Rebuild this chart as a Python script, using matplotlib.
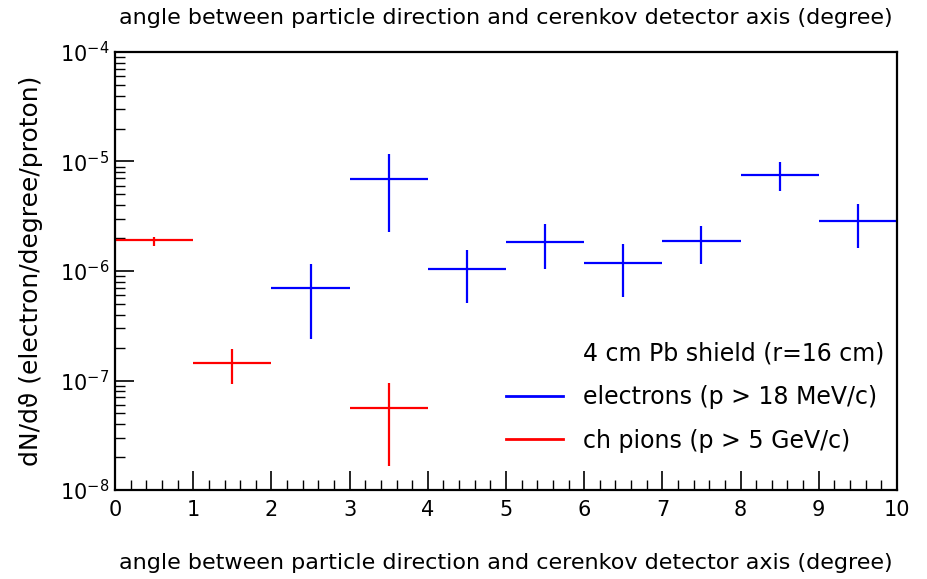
import matplotlib.pyplot as plt
import numpy as np
from matplotlib.lines import Line2D
from matplotlib.ticker import FixedLocator, LogLocator, NullFormatter, MultipleLocator

# bin centres (degree) and dN/dtheta values with asymmetric errors
e_x = [2.5, 3.5, 4.5, 5.5, 6.5, 7.5, 8.5, 9.5]
e_y = [7.0e-7, 6.9e-6, 1.04e-6, 1.85e-6, 1.19e-6, 1.87e-6, 7.6e-6, 2.87e-6]
e_hi = [1.15e-6, 1.16e-5, 1.55e-6, 2.66e-6, 1.78e-6, 2.57e-6, 9.9e-6, 4.08e-6]
e_lo = [2.37e-7, 2.28e-6, 5.15e-7, 1.04e-6, 5.73e-7, 1.17e-6, 5.36e-6, 1.63e-6]

pi_x = [0.5, 1.5, 3.5]
pi_y = [1.91e-6, 1.445e-7, 5.65e-8]
pi_hi = [2.05e-6, 1.96e-7, 9.57e-8]
pi_lo = [1.70e-6, 9.2e-8, 1.66e-8]

bin_half = 0.5
ytick_labels = [r"$10^{-8}$", r"$10^{-7}$", r"$10^{-6}$", r"$10^{-5}$", r"$10^{-4}$"]
xlabel = "angle between particle direction and cerenkov detector axis (degree)"

plt.rcParams["font.family"] = "DejaVu Sans"
plt.rcParams["mathtext.default"] = "regular"

fig = plt.figure(figsize=(9.27, 5.79), dpi=100)
ax = fig.add_axes([0.1241, 0.1537, 0.8435, 0.7565])


def draw(x, y, lo, hi, color):
    y = np.asarray(y)
    yerr = [y - np.asarray(lo), np.asarray(hi) - y]
    ax.errorbar(x, y, xerr=bin_half, yerr=yerr, fmt="none", ecolor=color,
                elinewidth=1.6, capsize=0)


draw(e_x, e_y, e_lo, e_hi, "#0000ff")
draw(pi_x, pi_y, pi_lo, pi_hi, "#ff0000")

ax.set_yscale("log")
ax.set_xlim(0, 10)
ax.set_ylim(1e-8, 1e-4)

ax.xaxis.set_major_locator(MultipleLocator(1))
ax.xaxis.set_minor_locator(MultipleLocator(0.2))
ax.yaxis.set_major_locator(FixedLocator([1e-8, 1e-7, 1e-6, 1e-5, 1e-4]))
ax.yaxis.set_minor_locator(LogLocator(base=10, subs=np.arange(2, 10)))
ax.yaxis.set_minor_formatter(NullFormatter())
ax.set_yticklabels(ytick_labels)

ax.tick_params(axis="both", which="major", direction="in", length=14,
               width=1.2, labelsize=15, top=False, right=False)
ax.tick_params(axis="both", which="minor", direction="in", length=7,
               width=1.0, top=False, right=False)
ax.tick_params(axis="x", pad=7)
ax.tick_params(axis="y", pad=4)
for s in ax.spines.values():
    s.set_linewidth(1.6)

ax.set_xlabel(xlabel, fontsize=16, labelpad=24)
ax.set_ylabel("dN/d\u03d1 (electron/degree/proton)", fontsize=18)
ax.yaxis.set_label_coords(-0.092, 0.5)
ax.set_title(xlabel, fontsize=16, pad=20)

handles = [Line2D([], [], color="none"),
           Line2D([], [], color="#0000ff", lw=2),
           Line2D([], [], color="#ff0000", lw=2)]
labels = ["4 cm Pb shield (r=16 cm)", "electrons (p > 18 MeV/c)",
          "ch pions (p > 5 GeV/c)"]
ax.legend(handles, labels, loc="upper left", bbox_to_anchor=(0.5, 0.34),
          frameon=False, fontsize=17, handlelength=2.4, handletextpad=0.85,
          labelspacing=0.84, borderpad=0, borderaxespad=0)

fig.savefig("out.png", dpi=100)
